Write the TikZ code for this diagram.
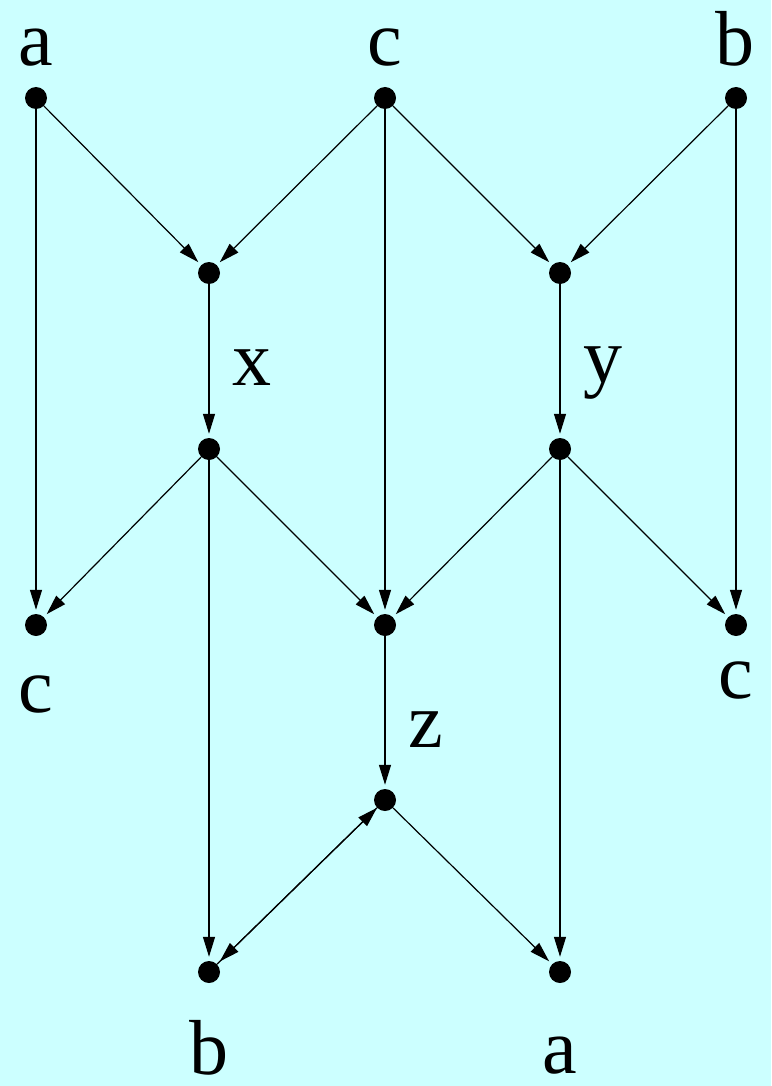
\documentclass[tikz,border=0pt]{standalone}
\usepackage{fontspec}
\setmainfont{Liberation Serif}
\usetikzlibrary{arrows.meta}
\definecolor{bgcyan}{HTML}{CCFFFF}
\begin{document}
\begin{tikzpicture}[x=1pt, y=-1pt,
    dot/.style={circle, fill=black, minimum size=22pt, inner sep=0pt},
    lbl/.style={inner sep=0pt, font=\fontsize{78}{80}\selectfont},
    edge/.style={-{Triangle[length=20pt,width=12pt]}, line width=1.2pt, shorten >=4pt}]
    \fill[bgcyan] (0,0) rectangle (771,1086);
    \useasboundingbox (0,0) rectangle (771,1086);

    % vertices
    \node[dot] (at) at (36,98) {};
    \node[dot] (ct) at (385,98) {};
    \node[dot] (bt) at (736,98) {};
    \node[dot] (xt) at (209,273) {};
    \node[dot] (yt) at (560,273) {};
    \node[dot] (xb) at (209,449) {};
    \node[dot] (yb) at (560,449) {};
    \node[dot] (cl) at (36,625) {};
    \node[dot] (zt) at (385,625) {};
    \node[dot] (cr) at (736,625) {};
    \node[dot] (zb) at (385,800) {};
    \node[dot] (bb) at (209,972) {};
    \node[dot] (ab) at (560,972) {};

    % labels
    \node[lbl] (la) at (36,48) {a};
    \node[lbl] (lc) at (385,48) {c};
    \node[lbl] (lb) at (735,39) {b};
    \node[lbl] (lx) at (252,368) {x};
    \node[lbl] (ly) at (603,373) {y};
    \node[lbl] (lcl) at (36,694) {c};
    \node[lbl] (lcr) at (736,680) {c};
    \node[lbl] (lz) at (426,730) {z};
    \node[lbl] (lbb) at (209,1048) {b};
    \node[lbl] (lab) at (560,1056) {a};

    % edges
    \draw[edge] (at) -- (xt);
    \draw[edge] (at) -- (cl);
    \draw[edge] (ct) -- (xt);
    \draw[edge] (ct) -- (zt);
    \draw[edge] (ct) -- (yt);
    \draw[edge] (bt) -- (yt);
    \draw[edge] (bt) -- (cr);
    \draw[edge] (xt) -- (xb);
    \draw[edge] (yt) -- (yb);
    \draw[edge] (xb) -- (cl);
    \draw[edge] (xb) -- (zt);
    \draw[edge] (xb) -- (bb);
    \draw[edge] (yb) -- (zt);
    \draw[edge] (yb) -- (cr);
    \draw[edge] (yb) -- (ab);
    \draw[edge] (zt) -- (zb);
    \draw[edge] (zb) -- (ab);
    \draw[edge, shorten <=0pt] (zb) -- (bb);
    \draw[edge, shorten >=0pt] (bb) -- (zb);
\end{tikzpicture}
\end{document}
